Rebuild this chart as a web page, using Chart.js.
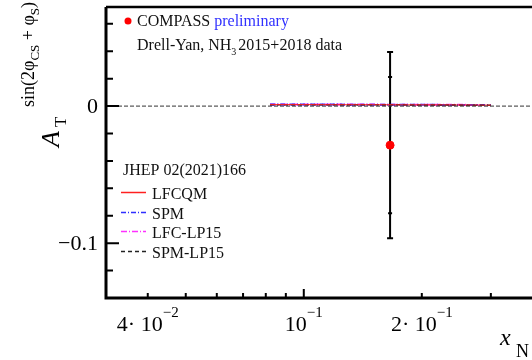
<!DOCTYPE html>
<html>
<head>
<meta charset="utf-8">
<script src="https://cdn.jsdelivr.net/npm/chart.js@4.4.1/dist/chart.umd.min.js"></script>
<style>
  html, body { margin: 0; padding: 0; background: #fff; }
  canvas { display: block; }
</style>
</head>
<body>
<canvas id="asym" width="532" height="360"></canvas>
<script>
// measured point (COMPASS preliminary)
const dataX = [0.166];
const dataY = [-0.0285];
const statErr = [0.068];
const sysErr = [0.0497];

// model curves (JHEP 02(2021)166)
const curveX = [0.082, 0.1, 0.12, 0.15, 0.18, 0.22, 0.26, 0.30];
const lfcqm = [0.0011, 0.0011, 0.0010, 0.0010, 0.0009, 0.0009, 0.0008, 0.0007];
const spm = [0.0011, 0.0011, 0.0011, 0.0010, 0.0010, 0.0009, 0.0008, 0.0007];
const lfcLp15 = [0.0012, 0.0012, 0.0012, 0.0011, 0.0010, 0.0010, 0.0009, 0.0008];
const spmLp15 = [0.0010, 0.0010, 0.0010, 0.0009, 0.0009, 0.0008, 0.0007, 0.0006];

// axes
const xMin = 0.0313, xMax = 0.382;
const yMin = -0.140, yMax = 0.0723;
const xTickValues = [0.04, 0.1, 0.2];
const xTickMantissa = ['4· ', '', '2· '];
const xTickExponent = ['−2', '−1', '−1'];
const xMinorTicks = [0.04, 0.05, 0.06, 0.07, 0.08, 0.09, 0.2, 0.3];
const yTickValues = [0, -0.1];
const yTickLabels = ['0', '−0.1'];
const yMinorTicks = [0.06, 0.04, 0.02, -0.02, -0.04, -0.06, -0.08, -0.12];

const legendNames = ['LFCQM', 'SPM', 'LFC-LP15', 'SPM-LP15'];
const legendColors = ['#ff2020', '#2f2fff', '#ff30ff', '#222222'];
const legendDash = [[], [5, 2, 1, 2], [6, 2, 1, 2], [4, 3]];

const SERIF = '"Liberation Serif", "Times New Roman", serif';

const pts = (xs, ys) => xs.map((x, i) => ({x: x, y: ys[i]}));

const frame = {
  id: 'frame',
  beforeDatasetsDraw(chart) {
    const {ctx, scales: {x, y}} = chart;
    ctx.save();
    ctx.strokeStyle = '#000';
    ctx.lineWidth = 2;
    dataX.forEach((v, i) => {
      const px = x.getPixelForValue(v);
      const top = y.getPixelForValue(dataY[i] + statErr[i]);
      const bot = y.getPixelForValue(dataY[i] - statErr[i]);
      ctx.beginPath();
      ctx.moveTo(px, top); ctx.lineTo(px, bot);
      ctx.moveTo(px - 3, top); ctx.lineTo(px + 3, top);
      ctx.moveTo(px - 3, bot); ctx.lineTo(px + 3, bot);
      [dataY[i] + sysErr[i], dataY[i] - sysErr[i]].forEach(s => {
        const py = y.getPixelForValue(s);
        ctx.moveTo(px - 2, py); ctx.lineTo(px + 2, py);
      });
      ctx.stroke();
    });
    ctx.restore();
  },
  afterDraw(chart) {
    const {ctx, chartArea: a, scales: {x, y}} = chart;
    ctx.save();
    ctx.strokeStyle = '#000';
    ctx.fillStyle = '#000';

    // frame
    ctx.lineWidth = 3;
    ctx.beginPath();
    ctx.moveTo(a.left, a.top);
    ctx.lineTo(a.left, a.bottom);
    ctx.lineTo(a.right, a.bottom);
    ctx.stroke();
    ctx.lineWidth = 2.5;
    ctx.beginPath();
    ctx.moveTo(a.left, a.top);
    ctx.lineTo(a.right, a.top);
    ctx.stroke();

    // ticks
    ctx.lineWidth = 2;
    ctx.beginPath();
    yTickValues.forEach(v => {
      const py = y.getPixelForValue(v);
      ctx.moveTo(a.left, py); ctx.lineTo(a.left + 13, py);
    });
    yMinorTicks.forEach(v => {
      const py = y.getPixelForValue(v);
      ctx.moveTo(a.left, py); ctx.lineTo(a.left + 7, py);
    });
    ctx.moveTo(x.getPixelForValue(0.1), a.bottom); ctx.lineTo(x.getPixelForValue(0.1), a.bottom - 9);
    xMinorTicks.forEach(v => {
      const px = x.getPixelForValue(v);
      ctx.moveTo(px, a.bottom); ctx.lineTo(px, a.bottom - 5);
    });
    ctx.stroke();

    // y tick labels
    ctx.font = '22px ' + SERIF;
    ctx.textAlign = 'right';
    ctx.textBaseline = 'middle';
    yTickValues.forEach((v, i) => {
      ctx.fillText(yTickLabels[i], 98, y.getPixelForValue(v) + 1);
    });

    // x tick labels
    ctx.textBaseline = 'alphabetic';
    ctx.textAlign = 'left';
    xTickValues.forEach((v, i) => {
      ctx.font = '22px ' + SERIF;
      const base = xTickMantissa[i] + '10';
      const wb = ctx.measureText(base).width;
      ctx.font = '15px ' + SERIF;
      const we = ctx.measureText(xTickExponent[i]).width;
      const left = x.getPixelForValue(v) - (wb + we) / 2;
      ctx.font = '22px ' + SERIF;
      ctx.fillText(base, left, 331);
      ctx.font = '15px ' + SERIF;
      ctx.fillText(xTickExponent[i], left + wb, 317);
    });

    // x title
    ctx.font = 'italic 24px ' + SERIF;
    ctx.fillText('x', 500, 345);
    ctx.font = '18px ' + SERIF;
    ctx.fillText('N', 516, 357);

    // y title (rotated)
    ctx.save();
    ctx.translate(59, 147);
    ctx.rotate(-Math.PI / 2);
    ctx.font = 'italic 26px ' + SERIF;
    ctx.fillText('A', 0, 0);
    ctx.font = '17px ' + SERIF;
    ctx.fillText('T', 20, 7);
    let cx = 40;
    const sup = [['sin(2φ', 0, 18], ['CS', 5, 13], [' + φ', 0, 18], ['S', 5, 13], [')', 0, 18]];
    sup.forEach(([t, dy, fs]) => {
      ctx.font = fs + 'px ' + SERIF;
      ctx.fillText(t, cx, -25 + dy);
      cx += ctx.measureText(t).width;
    });
    ctx.restore();

    // top legend
    ctx.fillStyle = '#ff0000';
    ctx.beginPath(); ctx.arc(128, 21, 3.5, 0, Math.PI * 2); ctx.fill();
    ctx.fillStyle = '#111';
    ctx.font = '16px ' + SERIF;
    ctx.fillText('COMPASS', 137, 26);
    const wc = ctx.measureText('COMPASS ').width;
    ctx.fillStyle = '#3030ff';
    ctx.fillText('preliminary', 137 + wc, 26);
    ctx.fillStyle = '#111';
    ctx.fillText('Drell-Yan, NH', 137, 50);
    const wd = ctx.measureText('Drell-Yan, NH').width;
    ctx.font = '10px ' + SERIF;
    ctx.fillText('3', 137 + wd, 55);
    ctx.font = '16px ' + SERIF;
    ctx.fillText(' 2015+2018 data', 137 + wd + 3, 50);

    // model legend
    ctx.fillText('JHEP 02(2021)166', 123, 175);
    legendNames.forEach((n, i) => {
      const ly = Math.round(192 + i * 19.5) + 0.5;
      ctx.strokeStyle = legendColors[i];
      ctx.lineWidth = 1.5;
      ctx.setLineDash(legendDash[i]);
      ctx.beginPath(); ctx.moveTo(121, ly); ctx.lineTo(146, ly); ctx.stroke();
      ctx.setLineDash([]);
      ctx.fillStyle = '#111';
      ctx.fillText(n, 152, ly + 6);
    });
    ctx.restore();
  }
};

const curve = (ys, i, w) => ({
  data: pts(curveX, ys),
  showLine: true,
  borderColor: legendColors[i],
  borderWidth: w,
  borderDash: legendDash[i],
  pointRadius: 0
});

new Chart(document.getElementById('asym'), {
  type: 'scatter',
  data: {
    datasets: [
      {
        data: [{x: xMin, y: 0}, {x: xMax, y: 0}],
        showLine: true,
        borderColor: '#333',
        borderWidth: 1,
        borderDash: [4, 2],
        pointRadius: 0
      },
      curve(lfcqm, 0, 1),
      curve(spmLp15, 3, 1.5),
      curve(spm, 1, 2),
      curve(lfcLp15, 2, 2),
      {
        data: pts(dataX, dataY),
        backgroundColor: '#ff0000',
        borderColor: '#ff0000',
        pointRadius: 4
      }
    ]
  },
  options: {
    responsive: false,
    animation: false,
    layout: { autoPadding: false, padding: { left: 106, right: 0, top: 7, bottom: 62 } },
    plugins: { legend: { display: false }, tooltip: { enabled: false } },
    scales: {
      x: { type: 'logarithmic', min: xMin, max: xMax, display: false },
      y: { type: 'linear', min: yMin, max: yMax, display: false }
    }
  },
  plugins: [frame]
});
</script>
</body>
</html>
